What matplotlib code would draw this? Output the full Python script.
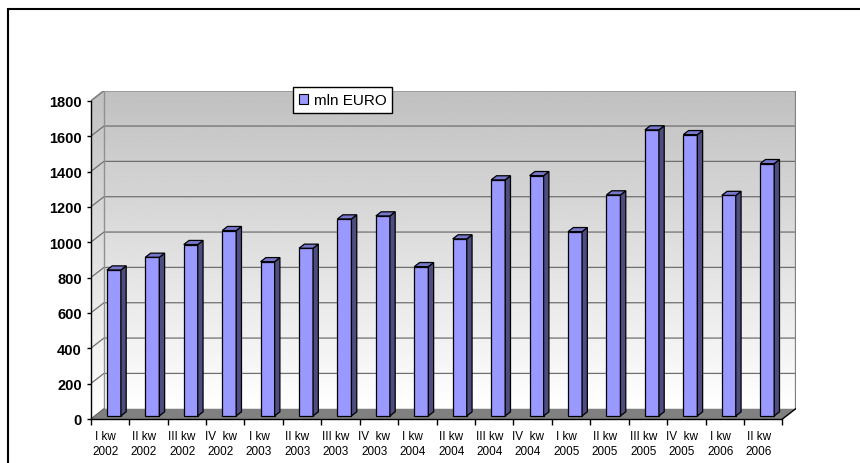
import matplotlib.pyplot as plt
import numpy as np
from matplotlib.patches import Polygon, Rectangle

plt.rcParams['font.family'] = ['Liberation Sans', 'DejaVu Sans']

# quarterly values (mln EURO)
quarters = ['I kw', 'II kw', 'III kw', 'IV  kw', 'I kw', 'II kw', 'III kw', 'IV  kw',
            'I kw', 'II kw', 'III kw', 'IV  kw', 'I kw', 'II kw', 'III kw', 'IV  kw',
            'I kw', 'II kw']
years = ['2002', '2002', '2002', '2002', '2003', '2003', '2003', '2003',
         '2004', '2004', '2004', '2004', '2005', '2005', '2005', '2005',
         '2006', '2006']
values = [826, 898, 970, 1049, 873, 949, 1115, 1132, 845, 1002, 1336, 1360,
          1043, 1251, 1619, 1592, 1248, 1428]
series_name = 'mln EURO'
yticks = [0, 200, 400, 600, 800, 1000, 1200, 1400, 1600, 1800]

n = len(values)
ymax = 1800
DX, DY = 0.345, 58          # depth of the fake 3D box (data units)
bw = 0.364                  # bar width
d0, d1 = 0.3, 0.7           # bar front / back depth fraction

fig = plt.figure(figsize=(8.6, 4.64), dpi=100)
ax = fig.add_axes([90.7 / 860, 44 / 464, 705 / 860, 328.3 / 464])
ax.set_xlim(-0.5, n - 0.5 + DX)
ax.set_ylim(0, ymax + DY)

x0, x1 = -0.5, n - 0.5

# walls with vertical gradient
walls = Polygon([(x0, 0), (x0 + DX, DY), (x1 + DX, DY), (x1 + DX, ymax + DY),
                 (x0 + DX, ymax + DY), (x0, ymax)], closed=True,
                transform=ax.transData)
grad = np.linspace(1.0, 0.753, 256).reshape(-1, 1)
im = ax.imshow(grad, cmap='gray', vmin=0, vmax=1, aspect='auto', origin='lower',
               extent=(x0, x1 + DX, DY, ymax + DY), zorder=0)
im.set_clip_path(walls)
# side wall gradient
im2 = ax.imshow(grad, cmap='gray', vmin=0, vmax=1, aspect='auto', origin='lower',
                extent=(x0, x0 + DX, 0, ymax + DY), zorder=0)
im2.set_clip_path(walls)

# gridlines on back and side wall
for v in yticks[1:-1]:
    ax.plot([x0, x0 + DX, x1 + DX], [v, v + DY, v + DY], color='#707070', lw=0.9, zorder=1)

# wall edges
ax.plot([x0, x0 + DX, x1 + DX, x1 + DX], [ymax, ymax + DY, ymax + DY, DY],
        color='#808080', lw=1.2, zorder=1)
ax.plot([x0 + DX, x0 + DX], [DY, ymax + DY], color='#909090', lw=1.0, zorder=1)

# floor
floor = Polygon([(x0, 0), (x1, 0), (x1 + DX, DY), (x0 + DX, DY)], closed=True,
                facecolor='#808080', edgecolor='none', zorder=2)
ax.add_patch(floor)
ax.plot([x1, x1 + DX], [0, DY], color='black', lw=1.0, zorder=2)
ax.plot([x0, x0 + DX], [0, DY], color='#606060', lw=0.8, zorder=2)

# bars
xs = np.arange(n) + d0 * DX
base = d0 * DY
ax.bar(xs, values, width=bw, bottom=base, color='#9999FF', edgecolor='black',
       linewidth=0.9, zorder=3)
bdx, bdy = (d1 - d0) * DX, (d1 - d0) * DY
for xc, v in zip(xs, values):
    xl, xr = xc - bw / 2, xc + bw / 2
    top = base + v
    side = Polygon([(xr, base), (xr + bdx, base + bdy), (xr + bdx, top + bdy), (xr, top)],
                   closed=True, facecolor='#4D4D80', edgecolor='black', lw=0.9, zorder=3)
    cap = Polygon([(xl, top), (xr, top), (xr + bdx, top + bdy), (xl + bdx, top + bdy)],
                  closed=True, facecolor='#7777CC', edgecolor='black', lw=0.9, zorder=3)
    ax.add_patch(side)
    ax.add_patch(cap)

# axes
for s in ['top', 'right']:
    ax.spines[s].set_visible(False)
ax.spines['left'].set_bounds(0, ymax)
ax.spines['bottom'].set_bounds(x0, x1)
for s in ['left', 'bottom']:
    ax.spines[s].set_linewidth(1.0)
    ax.spines[s].set_zorder(4)

ax.set_yticks(yticks)
ax.set_yticklabels([str(v) for v in yticks], fontsize=10.5, fontweight='bold')
ax.tick_params(axis='y', direction='out', length=3, width=1, pad=3.5)

ax.set_xticks(np.arange(n) - 0.12)
ax.set_xticklabels([f'{q}\n{y}' for q, y in zip(quarters, years)], fontsize=8.5,
                   linespacing=1.3, family=['Liberation Sans Narrow', 'Liberation Sans'])
ax.set_xticks(np.arange(n + 1) - 0.5, minor=True)
ax.tick_params(axis='x', which='major', length=0, pad=8)
ax.tick_params(axis='x', which='minor', direction='out', length=4, width=1)

# legend
handle = Rectangle((0, 0), 1, 1, facecolor='#9999FF', edgecolor='black', lw=0.8)
leg = fig.legend([handle], [series_name], loc='upper left',
                 bbox_to_anchor=(293 / 860, 1 - 88 / 464), fontsize=11,
                 handlelength=0.6, handleheight=0.6, handletextpad=0.35,
                 borderpad=0.4, borderaxespad=0, fancybox=False, framealpha=1)
leg.get_frame().set_edgecolor('black')
leg.get_frame().set_linewidth(1.0)

# outer chart border (cut off at right and bottom)
fig.add_artist(Rectangle((8 / 860, -0.1), 2, 1 - 10 / 464 + 0.1, transform=fig.transFigure,
                         fill=False, edgecolor='black', lw=1.5))

fig.savefig('out.png', dpi=100)
